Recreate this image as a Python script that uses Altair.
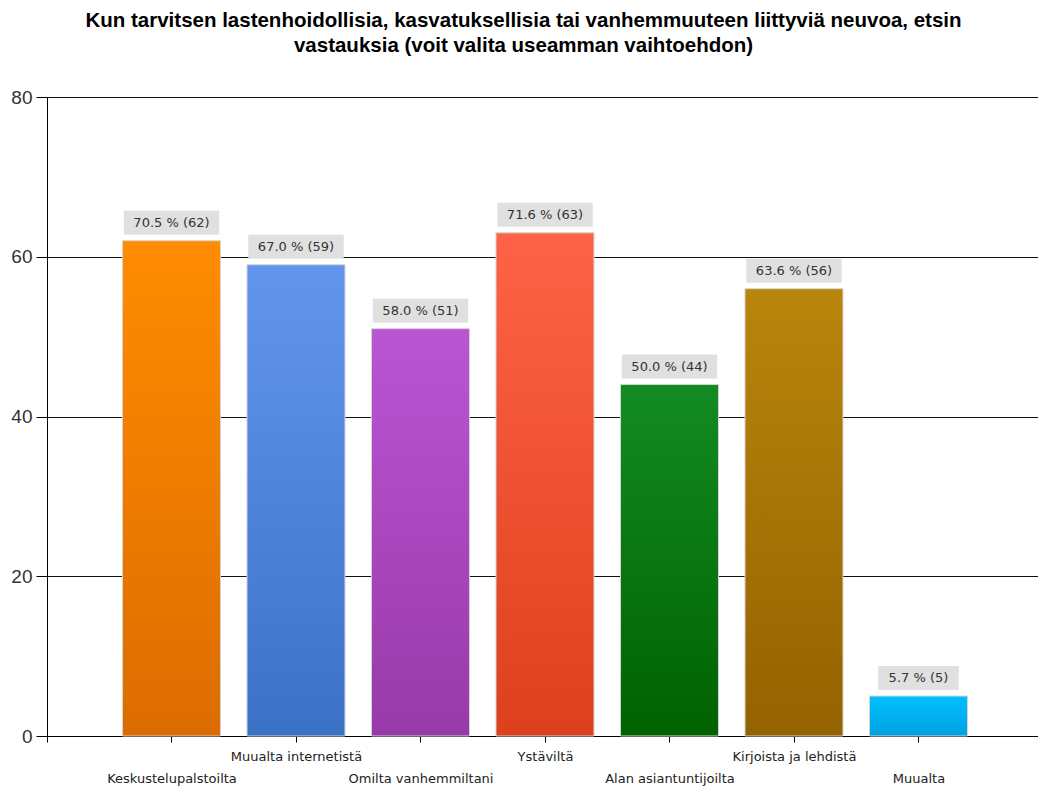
import json
import altair as alt
import pandas as pd

# ---- data ----
categories = ["Keskustelupalstoilta", "Muualta internetistä", "Omilta vanhemmiltani",
              "Ystäviltä", "Alan asiantuntijoilta", "Kirjoista ja lehdistä", "Muualta"]
counts = [62, 59, 51, 63, 44, 56, 5]
percents = [70.5, 67.0, 58.0, 71.6, 50.0, 63.6, 5.7]

# ---- styles ----
top_colors = ["#FF8C00", "#6495ED", "#BA55D3", "#FF6347", "#138B22", "#B8860B", "#00BFFF"]
bottom_colors = ["#DC6C00", "#3A72C6", "#983AA9", "#DC401C", "#006200", "#946200", "#00A2E0"]

title_lines = ["Kun tarvitsen lastenhoidollisia, kasvatuksellisia tai vanhemmuuteen liittyviä neuvoa, etsin",
               "vastauksia (voit valita useamman vaihtoehdon)"]

PLOT_W = 991
PLOT_H = 639
X_MAX = 7.96
PPU = PLOT_W / X_MAX

labels = [f"{p:.1f} % ({c})" for p, c in zip(percents, counts)]
df = pd.DataFrame({
    "pos": list(range(1, len(categories) + 1)),
    "category": categories,
    "count": counts,
    "label": labels,
})
box_w = df["label"].str.len() * 7.4 + 14
df["bx1"] = df["pos"] - box_w / 2 / PPU
df["bx2"] = df["pos"] + box_w / 2 / PPU

label_expr = "datum.value == 0 ? '' : " + json.dumps(categories) + "[datum.value - 1]"

x_axis = alt.Axis(
    values=list(range(0, len(categories) + 1)),
    labelExpr=label_expr,
    grid=False,
    domainColor="#000", domainWidth=1,
    tickColor="#000", tickSize=6, tickWidth=1,
    labelFont="DejaVu Sans", labelFontSize=13, labelColor="#222",
    labelBaseline="top", labelAngle=0, labelFlush=False, labelOverlap=False,
    labelPadding={"condition": {"test": "datum.value % 2 == 1", "value": 30}, "value": 8},
    title=None,
)
y_axis = alt.Axis(
    values=[0, 20, 40, 60, 80],
    grid=True, gridColor="#111", gridWidth=1, gridOpacity=1,
    domainColor="#000", domainWidth=1,
    tickColor="#000", tickSize=11, tickWidth=1,
    labelFont="Liberation Sans", labelFontSize=19, labelColor="#333", labelPadding=4,
    title=None,
)
x_scale = alt.Scale(domain=[0, X_MAX], nice=False, zero=True, padding=0)
y_scale = alt.Scale(domain=[0, 80], nice=False, padding=0)

base = alt.Chart(df)

layers = []
for i in range(len(categories)):
    grad = alt.Gradient(
        gradient="linear",
        stops=[alt.GradientStop(color=top_colors[i], offset=0),
               alt.GradientStop(color=bottom_colors[i], offset=1)],
        x1=0, x2=0, y1=0, y2=1,
    )
    layers.append(
        base.transform_filter(f"datum.pos == {i + 1}")
        .mark_bar(size=98, color=grad, stroke="#d4d4d4", strokeWidth=1)
        .encode(
            x=alt.X("pos:Q", scale=x_scale, axis=x_axis),
            y=alt.Y("count:Q", scale=y_scale, axis=y_axis),
        )
    )

boxes = base.mark_rect(color="#E0E0E0", yOffset=-6, y2Offset=-30).encode(
    x=alt.X("bx1:Q", scale=x_scale, axis=x_axis),
    x2="bx2:Q",
    y=alt.Y("count:Q", scale=y_scale, axis=y_axis),
    y2="count:Q",
)
texts = base.mark_text(font="DejaVu Sans", fontSize=13, color="#333", dy=-18,
                       baseline="middle", align="center").encode(
    x=alt.X("pos:Q", scale=x_scale, axis=x_axis),
    y=alt.Y("count:Q", scale=y_scale, axis=y_axis),
    text="label:N",
)

chart = alt.layer(*layers, boxes, texts).properties(
    width=PLOT_W,
    height=PLOT_H,
    title=alt.Title(
        text=title_lines,
        anchor="middle",
        font="Liberation Sans",
        fontSize=20.5,
        fontWeight="bold",
        color="#000",
        lineHeight=25,
        offset=32,
        dx=-19,
    ),
    autosize=alt.AutoSizeParams(type="none"),
    padding={"left": 39, "top": 89, "right": 0, "bottom": 51},
).configure(background="white").configure_view(stroke=None)

chart.save("out.html", embed_options={"renderer": "svg", "actions": False})
